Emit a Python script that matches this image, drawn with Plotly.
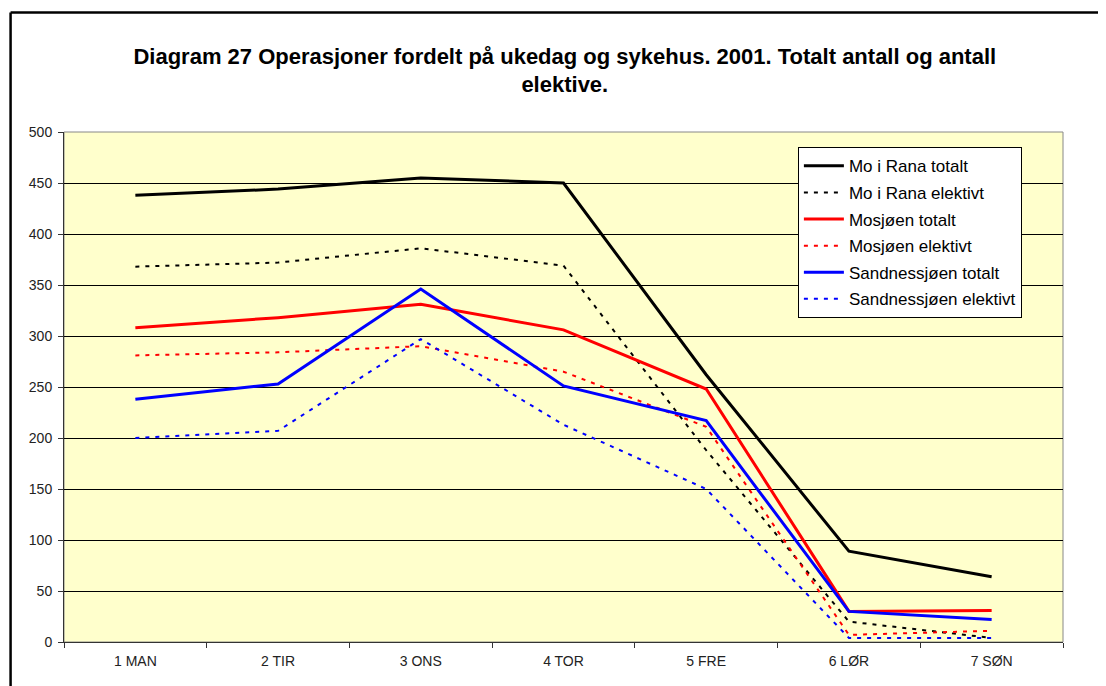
import plotly.graph_objects as go

categories = ["1 MAN", "2 TIR", "3 ONS", "4 TOR", "5 FRE", "6 LØR", "7 SØN"]
mo_totalt = [438, 444, 455, 450, 262, 89, 64]
mo_elektivt = [368, 372, 386, 369, 188, 20, 4]
mosjoen_totalt = [308, 318, 331, 306, 248, 30, 31]
mosjoen_elektivt = [281, 284, 290, 265, 211, 7, 11]
sand_totalt = [238, 253, 346, 251, 217, 30, 22]
sand_elektivt = [200, 207, 297, 213, 150, 4, 4]

series = [
    ("Mo i Rana totalt", mo_totalt, "#000000", "solid", 3),
    ("Mo i Rana elektivt", mo_elektivt, "#000000", "4px,6px", 2),
    ("Mosjøen totalt", mosjoen_totalt, "#FF0000", "solid", 3),
    ("Mosjøen elektivt", mosjoen_elektivt, "#FF0000", "4px,6px", 2),
    ("Sandnessjøen totalt", sand_totalt, "#0000FF", "solid", 3),
    ("Sandnessjøen elektivt", sand_elektivt, "#0000FF", "4px,6px", 2),
]

# page has an 8px body margin; work in reference-pixel coords minus offset
OFF = 8
W, H = 1106 - OFF, 686 - OFF
L = 64.4 - OFF
R = W - (1063 - OFF)
T = 131.7 - OFF
B = H - (642.3 - OFF)
pw = W - L - R
ph = H - T - B

fig = go.Figure()
for i, (name, vals, color, dash, lw) in enumerate(series):
    fig.add_trace(go.Scatter(
        x=categories, y=vals, name=name, mode="lines",
        line=dict(color=color, dash=dash, width=lw),
        legendgroup=f"g{i}",
    ))

def px_x(p):
    return (p - OFF - L) / pw

def px_y(p):
    return (H - B - (p - OFF)) / ph

fig.update_layout(
    width=W, height=H,
    margin=dict(l=L, r=R, t=T, b=B, pad=0),
    paper_bgcolor="white",
    plot_bgcolor="#FFFFCC",
    font=dict(family="Arial, Liberation Sans, sans-serif", size=14, color="#222222"),
    title=dict(
        text="<b>Diagram 27 Operasjoner fordelt på ukedag og sykehus. 2001. Totalt antall og antall<br>elektive.</b>",
        x=px_x(565), xanchor="center", xref="paper",
        y=1 - (63.5 - OFF) / H, yanchor="middle",
        font=dict(size=22, color="#000000"),
    ),
    xaxis=dict(
        type="category", range=[-0.5, 6.5], tickson="boundaries",
        ticks="outside", ticklen=5, tickcolor="#333333",
        showline=True, linecolor="#333333", linewidth=1,
        showgrid=False, zeroline=False,
        tickfont=dict(size=14, color="#222222"),
        ticklabelstandoff=6,
    ),
    yaxis=dict(
        range=[0, 500], dtick=50, tick0=0,
        ticks="outside", ticklen=5, tickcolor="#333333",
        showline=True, linecolor="#333333", linewidth=1,
        showgrid=True, gridcolor="#000000", gridwidth=1,
        zeroline=False,
        tickfont=dict(size=14, color="#222222"),
        ticklabelstandoff=3,
    ),
    legend=dict(
        x=px_x(798), y=px_y(147), xanchor="left", yanchor="top",
        bgcolor="white", bordercolor="#000000", borderwidth=1,
        font=dict(size=17, color="#000000"),
        tracegroupgap=1.5,
        itemwidth=40,
    ),
    showlegend=True,
    shapes=[
        dict(type="rect", xref="paper", yref="paper", x0=0, x1=1, y0=0, y1=1,
             line=dict(color="#888888", width=1), layer="below"),
        dict(type="line", xref="paper", yref="paper",
             x0=px_x(11), x1=px_x(11), y0=px_y(12), y1=px_y(720),
             line=dict(color="#000000", width=2.5)),
        dict(type="line", xref="paper", yref="paper",
             x0=px_x(11), x1=px_x(1140), y0=px_y(12), y1=px_y(12),
             line=dict(color="#000000", width=2.5)),
    ],
)

fig.write_html("out.html")
